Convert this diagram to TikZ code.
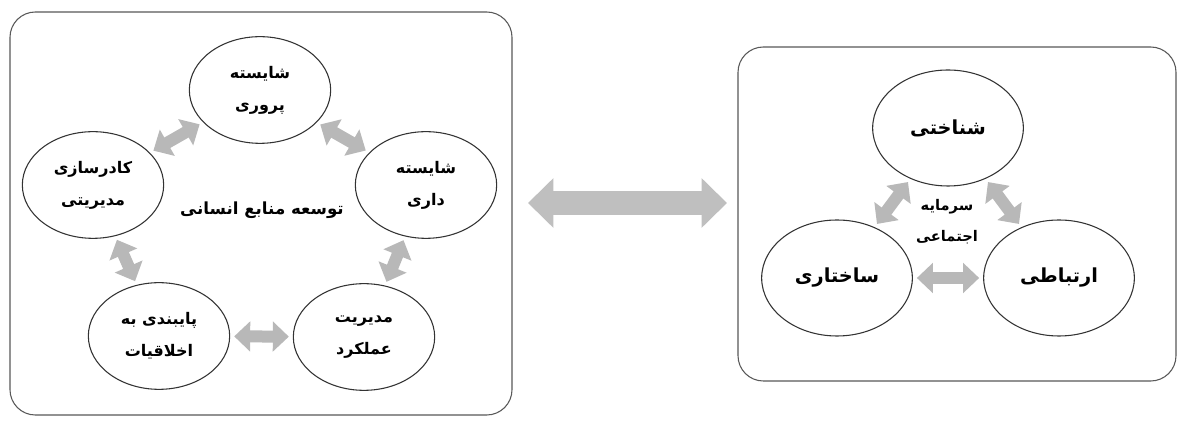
\documentclass[tikz,border=0pt]{standalone}
\usepackage{fontspec}
\newfontfamily\arabicfont[Script=Arabic]{DejaVu Sans}
\TeXXeTstate=1
\usetikzlibrary{shapes.geometric, arrows.meta}
\usetikzlibrary{positioning}

\tikzset{
  panel/.style={draw=black!65, line width=0.8pt, rounded corners=19pt},
  bubble/.style={ellipse, draw=black!80, line width=0.8pt, minimum width=106pt, minimum height=80pt,
    align=center, font=\arabicfont\bfseries\fontsize{12}{24}\selectfont, inner sep=0pt},
  bubblebig/.style={bubble, minimum width=113pt, minimum height=87pt, font=\arabicfont\bfseries\fontsize{14.5}{24}\selectfont},
  label/.style={align=center, font=\arabicfont\bfseries\fontsize{12.5}{24}\selectfont},
  link/.style={draw=black!28, line width=9pt, {Triangle[width=22pt,length=12pt]}-{Triangle[width=22pt,length=12pt]},
    shorten <=3pt, shorten >=3pt},
  biglink/.style={draw=black!25, line width=18pt, {Triangle[width=36pt,length=19pt]}-{Triangle[width=36pt,length=19pt]}}
}

\begin{document}
\begin{tikzpicture}[x=0.75pt, y=-0.75pt]
    % Background
    \useasboundingbox (0,0) rectangle (1178,423);
    \fill[white] (0,0) rectangle (1178,423);

    % left panel
    \draw[panel] (10,12) rectangle (512,415);

    \node[bubble] (parvari) at (260,90) {\beginR شایسته\endR\\\beginR پروری\endR};
    \node[bubble] (dari) at (426,185) {\beginR شایسته\endR\\\beginR داری\endR};
    \node[bubble] (amalkard) at (364,337) {\beginR مدیریت\endR\\\beginR عملکرد\endR};
    \node[bubble] (akhlagh) at (159,336) {\beginR پایبندی به\endR\\\beginR اخلاقیات\endR};
    \node[bubble] (kadr) at (93,185) {\beginR کادرسازی\endR\\\beginR مدیریتی\endR};

    \node[label] (tose) at (262,210) {\beginR توسعه منابع انسانی\endR};

    \draw[link] (kadr) -- (parvari);
    \draw[link] (parvari) -- (dari);
    \draw[link] (dari) -- (amalkard);
    \draw[link] (amalkard) -- (akhlagh);
    \draw[link] (akhlagh) -- (kadr);

    % middle
    \coordinate (midL) at (528,203);
    \coordinate (midR) at (727,203);
    \draw[biglink] (midL) -- (midR);

    % right panel
    \draw[panel] (738,47) rectangle (1176,381);

    \node[bubblebig] (shenakhti) at (948,128) {\beginR شناختی\endR};
    \node[bubblebig] (sakhtari) at (837,278) {\beginR ساختاری\endR};
    \node[bubblebig] (ertebati) at (1059,278) {\beginR ارتباطی\endR};

    \node[label, font=\arabicfont\bfseries\fontsize{11}{23}\selectfont] (sarmaye) at (947,222) {\beginR سرمایه\endR\\\beginR اجتماعی\endR};

    \draw[link] (sakhtari) -- (shenakhti);
    \draw[link] (shenakhti) -- (ertebati);
    \draw[link] (sakhtari) -- (ertebati);

\end{tikzpicture}
\end{document}
